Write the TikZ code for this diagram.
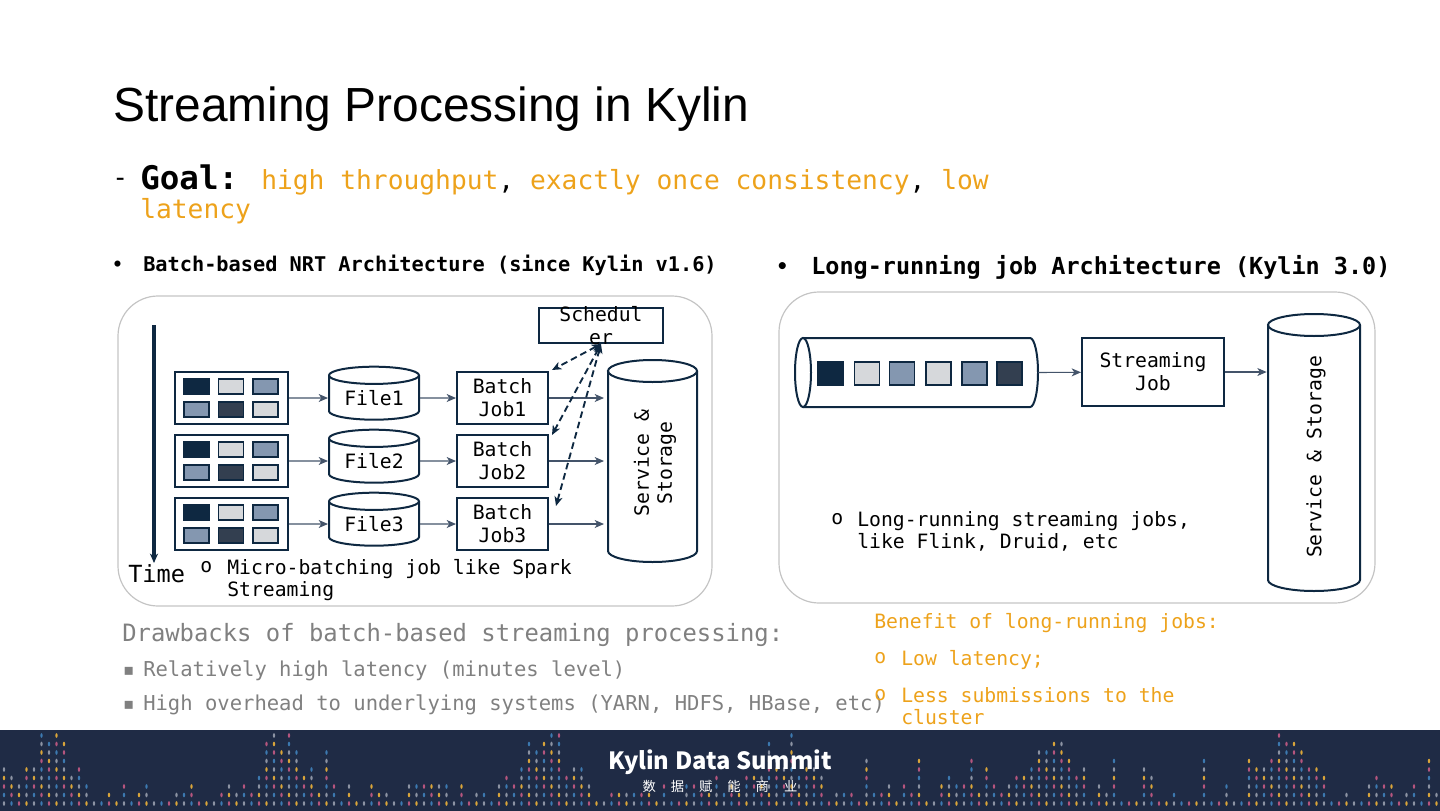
\documentclass[tikz,border=0pt]{standalone}
\usepackage{fontspec}
\setmainfont{Liberation Sans}
\setmonofont{DejaVu Sans Mono}
\newfontfamily\cjk{Noto Sans CJK SC}
\newfontfamily\dejavu{DejaVu Sans}
\usetikzlibrary{shapes.geometric, arrows.meta}
\definecolor{navy}{HTML}{0E2841}
\definecolor{cellgray}{HTML}{D6D8DB}
\definecolor{cellblue}{HTML}{8497B0}
\definecolor{cellslate}{HTML}{333F50}
\definecolor{linecol}{HTML}{44546A}
\definecolor{goalorange}{HTML}{EDA21B}
\definecolor{textgray}{HTML}{808080}
\definecolor{panelgray}{HTML}{C4C4C4}
\definecolor{footbg}{HTML}{1F2B45}
\definecolor{dotc0}{HTML}{D9A53A}
\definecolor{dotc1}{HTML}{B5557E}
\definecolor{dotc2}{HTML}{3C79B0}
\definecolor{dotc3}{HTML}{8C93A3}
\tikzset{>={Stealth[length=7pt,width=6pt,inset=2pt]}}
\newcommand{\lbl}{\fontsize{14.8}{17.3}\selectfont\ttfamily}
\newcommand{\notefont}{\fontsize{15.4}{18}\selectfont\ttfamily}
% outline of a lying cylinder round a plain node: full cap on the left
\newcommand{\tubeoutline}[3]{%
  \draw[navy, line width=1.5pt] (#1.north west) -- (#1.north east)
    arc[start angle=90, end angle=-90, x radius=#3, y radius=#2] -- (#1.south west);
  \draw[navy, line width=1.5pt] (#1.west) ellipse[x radius=#3, y radius=#2];
}
% outline of a standing cylinder round a plain node: full cap on top
\newcommand{\cyloutline}[3]{%
  \draw[navy, line width=1.5pt] (#1.north west) -- (#1.south west)
    arc[start angle=180, end angle=360, x radius=#2, y radius=#3] -- (#1.north east);
  \draw[navy, line width=1.5pt] (#1.north) ellipse[x radius=#2, y radius=#3];
}
\tikzset{
  panel/.style={draw=panelgray, line width=0.9pt, rounded corners=30pt},
  plain/.style={inner sep=0pt, anchor=base west},
  body/.style={inner sep=0pt, outer sep=0pt},
  boxnode/.style={draw=navy, line width=1.5pt, fill=white, align=center, inner sep=0pt, font=\lbl},
  gridbox/.style={draw=navy, line width=1.5pt, minimum width=84.75pt, minimum height=39pt, inner sep=0pt},
  cell/.style={draw=navy, line width=1.3pt, minimum width=18.75pt, minimum height=11.25pt, inner sep=0pt, fill=#1},
  tubecell/.style={draw=navy, line width=1.3pt, minimum width=18.75pt, minimum height=17.25pt, inner sep=0pt, fill=#1},
  filecyl/.style={cylinder, shape border rotate=90, draw=navy, line width=1.5pt, inner sep=0pt, font=\lbl,
    aspect=0.29, minimum width=67.5pt, minimum height=39.75pt},
  flow/.style={->, draw=linecol, line width=0.8pt},
  schedflow/.style={<->, draw=navy, line width=1.4pt, dash pattern=on 5pt off 3pt},
  timeline/.style={->, draw=navy, line width=2.4pt},
}

\begin{document}
\begin{tikzpicture}[x=0.75pt, y=-0.75pt]
\useasboundingbox (0,0) rectangle (1440,811);

% heading
\node[plain, font=\fontsize{35.9}{40}\selectfont] (title) at (113,121) {Streaming Processing in Kylin};
\node[plain, font=\fontsize{19.7}{22}\selectfont\ttfamily] (dash) at (112,186) {-};
\node[plain, font=\fontsize{24.4}{28}\selectfont\ttfamily\bfseries] (goal) at (140,189) {Goal:};
\node[plain, font=\fontsize{19.7}{22}\selectfont\ttfamily] (goal1) at (261,189)
  {\textcolor{goalorange}{high throughput}, \textcolor{goalorange}{exactly once consistency}, \textcolor{goalorange}{low}};
\node[plain, font=\fontsize{19.7}{22}\selectfont\ttfamily, text=goalorange] (goal2) at (140,218) {latency};

\node[plain, font=\fontsize{13}{16}\selectfont\ttfamily\bfseries] (dotl) at (112,270) {•};
\node[plain, font=\fontsize{15.2}{18}\selectfont\ttfamily\bfseries] (headl) at (143,271) {Batch-based NRT Architecture (since Kylin v1.6)};
\node[plain, font=\fontsize{15}{18}\selectfont\ttfamily\bfseries] (dotr) at (776,273) {•};
\node[plain, font=\fontsize{17.6}{20}\selectfont\ttfamily\bfseries] (headr) at (811,274) {Long-running job Architecture (Kylin 3.0)};

% panels
\draw[panel] (118,296) rectangle (712,606);
\draw[panel] (779,292) rectangle (1375,603);

% batch-based
\node[body, minimum width=66.75pt, minimum height=135pt] (store) at (652.5,461) {};
\cyloutline{store}{33.4pt}{8.25pt}
\node[font=\lbl, align=center, inner sep=0pt, rotate=90] (storetxt) at (655,463) {Service \&\\Storage};
\node[boxnode, minimum width=93pt, minimum height=26.25pt] (sched) at (601,325.5) {};
\node[font=\lbl, align=center, inner sep=0pt] (schedtxt) at (sched.center) {Schedul\\er};

\foreach \r/\y in {1/398,2/461,3/524}{
  \node[gridbox] (grid\r) at (231.5,\y) {};
  \foreach \c/\dx/\ctop/\cbot in {1/-35/navy/cellblue, 2/-0.5/cellgray/cellslate, 3/34/cellblue/cellgray}{
    \node[cell=\ctop] (cell\r\c a) at (231.5+\dx,\y-11.5) {};
    \node[cell=\cbot] (cell\r\c b) at (231.5+\dx,\y+11.5) {};
  }
  \node[filecyl] (file\r) at (374,\y) {File\r};
  \node[boxnode, minimum width=68.25pt, minimum height=39pt] (job\r) at (502.5,\y) {Batch\\Job\r};
  \draw[flow] (grid\r) -- (file\r);
  \draw[flow] (file\r) -- (job\r);
  \draw[flow, shorten >=3pt] (job\r) -- (job\r -| store.west);
}
\draw[schedflow] (sched.south) -- ([shift={(3,-1)}]job1.north east);
\draw[schedflow] (sched.south) -- ([shift={(3,1)}]job2.north east);
\draw[schedflow] (sched.south) -- ([shift={(7,9)}]job3.north east);

\coordinate (tstart) at (154,325);
\coordinate (tend) at (154,563);
\draw[timeline] (tstart) -- (tend);
\node[plain, font=\fontsize{17.7}{20}\selectfont\ttfamily] (timelbl) at (128,582) {Time};
\node[plain, font=\lbl] (mbo) at (200,572) {o};
\node[plain, font=\lbl] (mb1) at (227,574) {Micro-batching job like Spark};
\node[plain, font=\lbl] (mb2) at (227,596) {Streaming};

% long-running
\node[body, minimum width=170.25pt, minimum height=51.75pt] (tube) at (916.5,372.5) {};
\tubeoutline{tube}{25.9pt}{6pt}
\foreach \i/\xc/\col in {1/830.5/navy, 2/867/cellgray, 3/902/cellblue, 4/938.5/cellgray, 5/974.5/cellblue, 6/1009.5/cellslate}
  \node[tubecell=\col] (tcell\i) at (\xc,373.5) {};
\node[boxnode, minimum width=106.5pt, minimum height=51pt] (sjob) at (1153,372) {Streaming\\Job};
\node[body, minimum width=69pt, minimum height=191.25pt] (store2) at (1314,452.5) {};
\cyloutline{store2}{34.5pt}{8.25pt}
\node[font=\lbl, inner sep=0pt, rotate=90] (store2txt) at (1316,457) {Service \& Storage};
\draw[flow] ([xshift=6pt]tube.east) -- (sjob);
\draw[flow, shorten >=1pt] (sjob) -- (sjob -| store2.west);
\node[plain, font=\lbl] (lro) at (831,524) {o};
\node[plain, font=\lbl] (lr1) at (857,526) {Long-running streaming jobs,};
\node[plain, font=\lbl] (lr2) at (857,548) {like Flink, Druid, etc};

% notes below
\node[plain, font=\fontsize{17.9}{21}\selectfont\ttfamily, text=textgray] (drawb) at (122,641) {Drawbacks of batch-based streaming processing:};
\node[plain, font=\fontsize{12}{14}\selectfont\dejavu, text=textgray] (sq1) at (123,675) {▪};
\node[plain, font=\notefont, text=textgray] (dr1) at (143,676) {Relatively high latency (minutes level)};
\node[plain, font=\fontsize{12}{14}\selectfont\dejavu, text=textgray] (sq2) at (123,709) {▪};
\node[plain, font=\notefont, text=textgray] (dr2) at (143,710) {High overhead to underlying systems (YARN, HDFS, HBase, etc)};

\node[plain, font=\lbl, text=goalorange] (ben) at (874,628) {Benefit of long-running jobs:};
\node[plain, font=\lbl, text=goalorange] (bo1) at (874,663) {o};
\node[plain, font=\lbl, text=goalorange] (ben1) at (901,665) {Low latency;};
\node[plain, font=\lbl, text=goalorange] (bo2) at (874,700) {o};
\node[plain, font=\lbl, text=goalorange] (ben2) at (901,702) {Less submissions to the};
\node[plain, font=\lbl, text=goalorange] (ben3) at (901,724) {cluster};

% footer
\fill[footbg] (0,730) rectangle (1440,811);
\pgfmathsetseed{11}
\foreach \i in {0,...,191}{
  \pgfmathsetmacro\xx{4+7.5*\i}
  \pgfmathsetmacro\dd{min(min(min(abs(\xx-50),abs(\xx-285)),min(abs(\xx-550),abs(\xx-785))),min(abs(\xx-1050),abs(\xx-1285)))}
  \pgfmathtruncatemacro\hh{min(9,1+3*rnd+3*(rnd>0.88)+max(0,9-\dd/5)*(0.5+0.5*rnd))}
  \foreach \k in {1,...,\hh}{
    \pgfmathtruncatemacro\cc{mod(\i*7+\k*3,4)}
    \fill[fill=dotc\cc] (\xx,812-8.5*\k) ellipse[x radius=0.9pt, y radius=1.7pt];
  }
}
\node[font=\fontsize{17.8}{21}\selectfont\cjk\bfseries, text=white, inner sep=0pt] (summit) at (720,762) {Kylin Data Summit};
\node[font=\fontsize{10}{12}\selectfont\cjk, text=white, inner sep=0pt] (slogan) at (720,786)
  {数\hspace{11.2pt}据\hspace{11.2pt}赋\hspace{11.2pt}能\hspace{11.2pt}商\hspace{11.2pt}业};
\end{tikzpicture}
\end{document}
